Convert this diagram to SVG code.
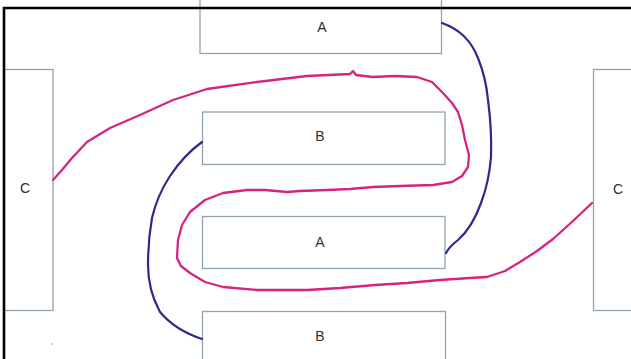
<svg xmlns="http://www.w3.org/2000/svg" width="631" height="359" viewBox="0 0 631 359">
<style>
.box{fill:#ffffff;stroke:#8fa3b0;stroke-width:1.3}
.lbl{font-family:"Liberation Sans",Arial,sans-serif;font-size:14px;fill:#2e2e2e;text-anchor:middle;dominant-baseline:central}
.blue{fill:none;stroke:#2b2a8e;stroke-width:2.2;stroke-linecap:round;stroke-linejoin:round}
.pink{fill:none;stroke:#d4247e;stroke-width:2.3;stroke-linecap:round;stroke-linejoin:round}
</style>
<rect width="631" height="359" fill="#ffffff"/>
<g id="nodeA1"><rect class="box" x="200" y="-2" width="241.5" height="55.5"/><text class="lbl" x="322" y="27">A</text></g>
<g id="nodeB1"><rect class="box" x="202.5" y="112" width="242.5" height="52.5"/><text class="lbl" x="320" y="136">B</text></g>
<g id="nodeA2"><rect class="box" x="202.5" y="216.5" width="242.5" height="52"/><text class="lbl" x="320" y="242">A</text></g>
<g id="nodeB2"><rect class="box" x="202.5" y="311.5" width="243" height="55"/><text class="lbl" x="320" y="336">B</text></g>
<g id="nodeC1"><rect class="box" x="4" y="69.5" width="49" height="241"/><text class="lbl" x="25" y="188">C</text></g>
<g id="nodeC2"><rect class="box" x="593.5" y="69.5" width="50" height="241"/><text class="lbl" x="618" y="189">C</text></g>
<g id="connectors">
<path class="blue" d="M442,23 Q468,32 478,58 Q486,78 488,100 Q492,130 491,157 Q489,182 481,203 Q472,228 458,240 Q449,247 446,253"/>
<path class="blue" d="M202,142 Q184,155 170,176 Q157,196 152,218 Q148,240 148,265 Q148,290 160,312 Q175,330 202,339"/>
<path class="pink" d="M53,180 L62,170 L72,158 L87,142 L110,128 L140,115 L173,100 L207,89 L257,82 L307,76 L350,74 L353,71 L356,75 L373,77 L395,76 L417,77 L432,82 L442,92 L452,103 L458,112 L462,125 L465,140 L469,155 L468,167 L462,176 L452,182 L433,185 L400,186 L373,187 L350,189 L327,190 L300,191 L287,192 L265,190 L247,190 L223,193 L205,200 L190,212 L182,225 L178,240 L177,258 L181,266 L190,273 L205,282 L223,287 L257,290 L290,290 L307,290 L340,288 L375,285 L407,283 L440,280 L470,278 L487,277 L505,271 L520,262 L537,251 L553,239 L573,221 L592,203"/>
</g>
<circle cx="52" cy="344" r="0.8" fill="#999999"/>
<path d="M4,359 L4,8 L631,8" fill="none" stroke="#000000" stroke-width="2.6"/>
</svg>
